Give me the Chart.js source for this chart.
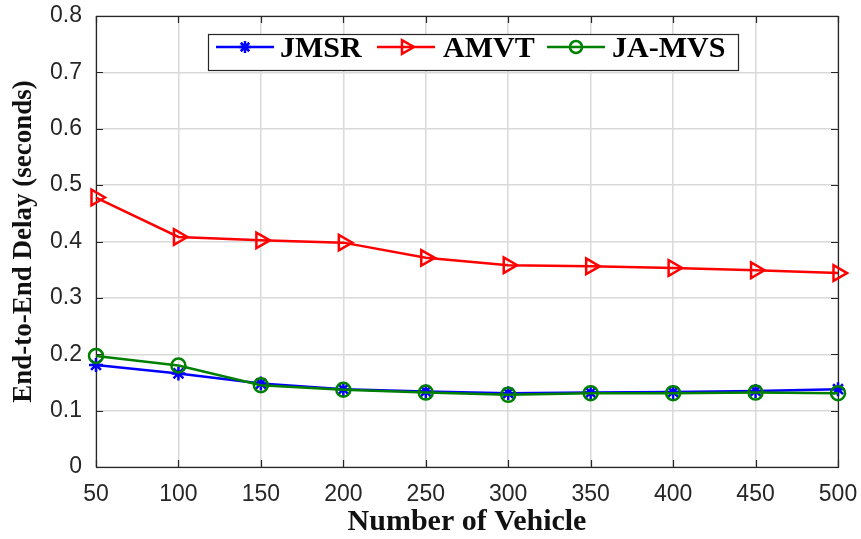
<!DOCTYPE html>
<html>
<head>
<meta charset="utf-8">
<script src="https://cdn.jsdelivr.net/npm/chart.js@4/dist/chart.umd.min.js"></script>
<style>
  html, body { margin: 0; padding: 0; background: #ffffff; }
  #wrap { width: 861px; height: 539px; }
</style>
</head>
<body>
<div id="wrap"><canvas id="c" width="861" height="539"></canvas></div>
<script>
// Number of vehicles on the x axis
const vehicles = [50, 100, 150, 200, 250, 300, 350, 400, 450, 500];

// End-to-end delay (seconds) per scheme
const jmsr  = [0.181, 0.166, 0.148, 0.138, 0.134, 0.131, 0.132, 0.133, 0.135, 0.138];
const amvt  = [0.478, 0.408, 0.402, 0.398, 0.371, 0.358, 0.356, 0.353, 0.349, 0.344];
const jaMvs = [0.197, 0.180, 0.145, 0.137, 0.132, 0.128, 0.131, 0.131, 0.132, 0.131];

// Tick values and labels
const xTicks = vehicles;
const yTicks = [0, 0.1, 0.2, 0.3, 0.4, 0.5, 0.6, 0.7, 0.8];
const yTickLabels = ['0', '0.1', '0.2', '0.3', '0.4', '0.5', '0.6', '0.7', '0.8'];

const seriesNames = ['JMSR', 'AMVT', 'JA-MVS'];

const AXIS_COLOR = '#262626';
const GRID_COLOR = '#d9d9d9';

function toPoints(values) {
  return vehicles.map((v, i) => ({ x: v, y: values[i] }));
}

const styles = [
  { color: '#0000ff', pointStyle: 'star', radius: 7, rotation: 0 },
  { color: '#ff0000', pointStyle: 'triangle', radius: 9, rotation: 90 },
  { color: '#008000', pointStyle: 'circle', radius: 7, rotation: 0 }
];

const seriesValues = [jmsr, amvt, jaMvs];

const datasets = seriesValues.map((vals, i) => ({
  label: seriesNames[i],
  data: toPoints(vals),
  borderColor: styles[i].color,
  backgroundColor: 'rgba(0,0,0,0)',
  borderWidth: 2.5,
  pointStyle: styles[i].pointStyle,
  pointRadius: styles[i].radius,
  pointRotation: styles[i].rotation,
  pointBorderColor: styles[i].color,
  pointBackgroundColor: 'rgba(0,0,0,0)',
  pointBorderWidth: 2.5,
  tension: 0,
  fill: false,
  clip: false,
  order: 3 - i
}));

// Box around the plot area with inward tick marks on all four sides
const axesBox = {
  id: 'axesBox',
  beforeDatasetsDraw(chart) {
    const { ctx, chartArea: a, scales } = chart;
    const len = 7;
    ctx.save();
    ctx.strokeStyle = AXIS_COLOR;
    ctx.lineWidth = 1.2;
    ctx.beginPath();
    xTicks.forEach(v => {
      const x = Math.round(scales.x.getPixelForValue(v)) + 0.5;
      ctx.moveTo(x, a.bottom); ctx.lineTo(x, a.bottom - len);
      ctx.moveTo(x, a.top);    ctx.lineTo(x, a.top + len);
    });
    yTicks.forEach(v => {
      const y = Math.round(scales.y.getPixelForValue(v)) + 0.5;
      ctx.moveTo(a.left, y);  ctx.lineTo(a.left + len, y);
      ctx.moveTo(a.right, y); ctx.lineTo(a.right - len, y);
    });
    ctx.stroke();
    ctx.strokeRect(Math.round(a.left) + 0.5, Math.round(a.top) + 0.5,
                   Math.round(a.right - a.left), Math.round(a.bottom - a.top));
    ctx.restore();
  }
};

// Legend box inside the plot, one row
const innerLegend = {
  id: 'innerLegend',
  afterDatasetsDraw(chart) {
    const { ctx } = chart;
    const box = { left: 208, top: 34, right: 738, bottom: 70 };
    const lineY = 47;
    const items = [
      { x1: 216, x2: 274, text: 280 },
      { x1: 377, x2: 435, text: 443 },
      { x1: 547, x2: 605, text: 612 }
    ];
    ctx.save();
    ctx.fillStyle = '#ffffff';
    ctx.fillRect(box.left, box.top, box.right - box.left, box.bottom - box.top);
    ctx.strokeStyle = AXIS_COLOR;
    ctx.lineWidth = 1.2;
    ctx.strokeRect(box.left + 0.5, box.top + 0.5, box.right - box.left, box.bottom - box.top);

    items.forEach((it, i) => {
      const st = styles[i];
      ctx.strokeStyle = st.color;
      ctx.lineWidth = 2.5;
      ctx.beginPath();
      ctx.moveTo(it.x1, lineY);
      ctx.lineTo(it.x2, lineY);
      ctx.stroke();
      const mx = (it.x1 + it.x2) / 2;
      ctx.fillStyle = 'rgba(0,0,0,0)';
      ctx.strokeStyle = st.color;
      Chart.helpers.drawPoint(ctx, {
        pointStyle: st.pointStyle,
        radius: st.pointStyle === 'triangle' ? 8 : 6,
        rotation: st.rotation,
        borderWidth: 2.5
      }, mx, lineY);
      ctx.fillStyle = '#000000';
      ctx.font = 'bold 30px "Liberation Serif"';
      ctx.textBaseline = 'alphabetic';
      ctx.textAlign = 'left';
      ctx.fillText(seriesNames[i], it.text, 57);
    });
    ctx.restore();
  }
};

new Chart(document.getElementById('c'), {
  type: 'line',
  data: { datasets },
  options: {
    responsive: false,
    animation: false,
    events: [],
    layout: { padding: { left: 0, right: 23, top: 16, bottom: 0 } },
    plugins: {
      legend: { display: false },
      tooltip: { enabled: false }
    },
    scales: {
      x: {
        type: 'linear',
        min: 50,
        max: 500,
        afterBuildTicks: s => { s.ticks = xTicks.map(v => ({ value: v })); },
        afterFit: s => { s.height = 72; s.paddingLeft = 0; s.paddingRight = 0; },
        grid: { color: GRID_COLOR, lineWidth: 1.5, drawTicks: false },
        border: { display: false },
        ticks: {
          padding: 14,
          autoSkip: false,
          maxRotation: 0,
          color: AXIS_COLOR,
          font: { family: 'Liberation Sans', size: 23 },
          callback: (v, i) => String(xTicks[i])
        },
        title: {
          display: true,
          text: 'Number of Vehicle',
          color: '#111111',
          font: { family: 'Liberation Serif', size: 30, weight: 'bold', lineHeight: 1.1 },
          padding: { top: 0, bottom: 0 }
        }
      },
      y: {
        min: 0,
        max: 0.8,
        afterBuildTicks: s => { s.ticks = yTicks.map(v => ({ value: v })); },
        afterFit: s => { s.width = 96; s.paddingTop = 0; s.paddingBottom = 0; },
        grid: { color: GRID_COLOR, lineWidth: 1.5, drawTicks: false },
        border: { display: false },
        ticks: {
          padding: 14,
          color: AXIS_COLOR,
          font: { family: 'Liberation Sans', size: 23 },
          callback: (v, i) => yTickLabels[i]
        },
        title: {
          display: true,
          text: 'End-to-End Delay (seconds)',
          color: '#111111',
          font: { family: 'Liberation Serif', size: 27, weight: 'bold', lineHeight: 1.2 },
          padding: { top: 8, bottom: 0 }
        }
      }
    }
  },
  plugins: [axesBox, innerLegend]
});
</script>
</body>
</html>
